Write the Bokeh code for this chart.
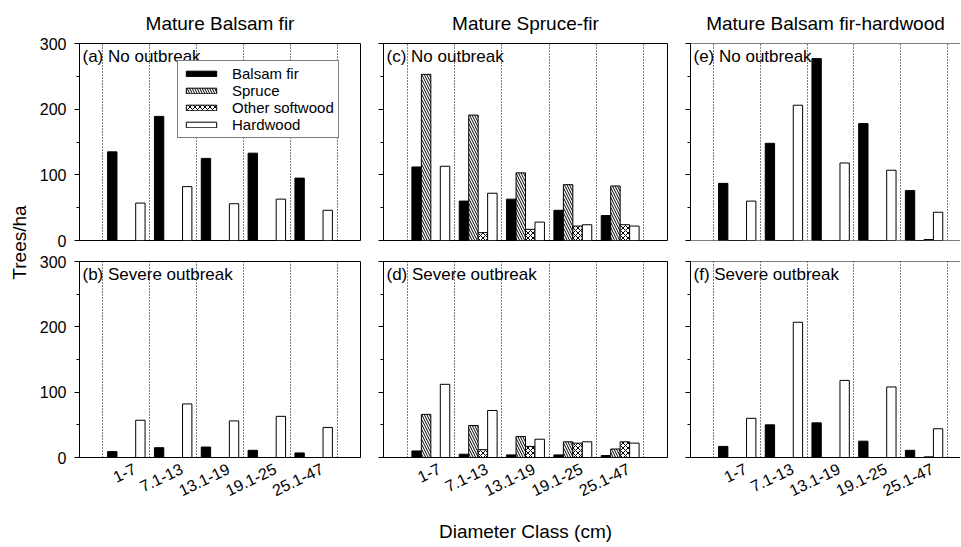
import math
from bokeh.plotting import figure
from bokeh.layouts import row, column
from bokeh.models import (Range1d, FixedTicker, SingleIntervalTicker, Label, Legend,
                          LegendItem, Span, ColumnDataSource)
from bokeh.transform import dodge
from bokeh.embed import file_html
from bokeh.resources import INLINE

FONT = "Liberation Sans"

# ---------------- data ----------------
categories = ["1-7", "7.1-13", "13.1-19", "19.1-25", "25.1-47"]
species = ["Balsam fir", "Spruce", "Other softwood", "Hardwood"]
column_titles = ["Mature Balsam fir", "Mature Spruce-fir", "Mature Balsam fir-hardwood"]
panel_labels = [["(a) No outbreak", "(b) Severe outbreak"],
                ["(c) No outbreak", "(d) Severe outbreak"],
                ["(e) No outbreak", "(f) Severe outbreak"]]
y_axis_label = "Trees/ha"
x_axis_label = "Diameter Class (cm)"
y_major_ticks = [0, 100, 200, 300]

# Mature Balsam fir
bf_no_balsam = [135, 189, 125, 133, 95]
bf_no_spruce = [0, 0, 0, 0, 0]
bf_no_other = [0, 0, 0, 0, 0]
bf_no_hard = [57, 82, 56, 63, 46]
bf_sev_balsam = [9, 15, 16, 11, 7]
bf_sev_spruce = [0, 0, 0, 0, 0]
bf_sev_other = [0, 0, 0, 0, 0]
bf_sev_hard = [57, 82, 56, 63, 46]

# Mature Spruce-fir
sf_no_balsam = [112, 60, 63, 46, 38]
sf_no_spruce = [253, 191, 103, 85, 83]
sf_no_other = [0, 12, 17, 22, 24]
sf_no_hard = [113, 72, 28, 24, 22]
sf_sev_balsam = [10, 5, 4, 4, 3]
sf_sev_spruce = [66, 49, 32, 24, 13]
sf_sev_other = [0, 12, 17, 22, 24]
sf_sev_hard = [112, 72, 28, 24, 22]

# Mature Balsam fir-hardwood
bfh_no_balsam = [87, 148, 277, 178, 76]
bfh_no_spruce = [0, 0, 0, 0, 0]
bfh_no_other = [0, 0, 0, 0, 1.5]
bfh_no_hard = [60, 206, 118, 107, 43]
bfh_sev_balsam = [17, 50, 53, 25, 11]
bfh_sev_spruce = [0, 0, 0, 0, 0]
bfh_sev_other = [0, 0, 0, 0, 1]
bfh_sev_hard = [60, 207, 118, 108, 44]

panels = [
    [[bf_no_balsam, bf_no_spruce, bf_no_other, bf_no_hard],
     [bf_sev_balsam, bf_sev_spruce, bf_sev_other, bf_sev_hard]],
    [[sf_no_balsam, sf_no_spruce, sf_no_other, sf_no_hard],
     [sf_sev_balsam, sf_sev_spruce, sf_sev_other, sf_sev_hard]],
    [[bfh_no_balsam, bfh_no_spruce, bfh_no_other, bfh_no_hard],
     [bfh_sev_balsam, bfh_sev_spruce, bfh_sev_other, bfh_sev_hard]],
]

# ---------------- styling / layout constants ----------------
Y_MIN, Y_MAX = 0, 300
X_MIN = 0
X_MAX = [6, 6, 5.78]
BAR_W = 0.2
OFFSETS = [-0.3, -0.1, 0.1, 0.3]
LABEL_SHIFT = 0.18
STYLES = [
    dict(fill_color="black"),
    dict(fill_color="white", hatch_pattern="left_diagonal_line", hatch_color="black",
         hatch_scale=5, hatch_weight=1),
    dict(fill_color="white", hatch_pattern="diagonal_cross", hatch_color="black",
         hatch_scale=5, hatch_weight=1),
    dict(fill_color="white"),
]
STRIP_W = 32
WIDTHS = [333, 307, 288]
MB_LEFT = [47, 18, 18]
MB_RIGHT = [5, 5, 0]
TOP_H, BOT_H = 250, 296

positions = list(range(1, len(categories) + 1))
boundaries = [i + 0.5 for i in range(len(categories) + 1)]
label_positions = [p + LABEL_SHIFT for p in positions]


def make_panel(ci, ri):
    top = ri == 0
    p = figure(width=WIDTHS[ci], height=TOP_H if top else BOT_H,
               x_range=Range1d(X_MIN, X_MAX[ci]), y_range=Range1d(Y_MIN, Y_MAX),
               output_backend="svg", toolbar_location=None,
               min_border_left=MB_LEFT[ci], min_border_right=MB_RIGHT[ci],
               min_border_top=43 if top else 11, min_border_bottom=10 if top else 89,
               title=column_titles[ci] if top else None)
    if top:
        p.title.text_font = FONT
        p.title.text_font_size = "19px"
        p.title.text_font_style = "normal"
        p.title.align = "center"
        p.title.text_color = "black"
        p.title.standoff = 20

    data = dict(x=positions)
    vals = panels[ci][ri]
    for k in range(len(species)):
        data["s%d" % k] = vals[k]
    src = ColumnDataSource(data)
    renderers = []
    for k in range(len(species)):
        r = p.vbar(x=dodge("x", OFFSETS[k], range=p.x_range), top="s%d" % k, bottom=0,
                   width=BAR_W, source=src, line_color="black", line_width=1, **STYLES[k])
        renderers.append(r)

    # grid: dotted class boundaries
    p.ygrid.visible = False
    p.xgrid.ticker = FixedTicker(ticks=boundaries)
    p.xgrid.grid_line_color = "black"
    p.xgrid.grid_line_dash = "1 2"
    p.xgrid.grid_line_width = 1

    # y axis
    p.yaxis.ticker = SingleIntervalTicker(interval=100, num_minor_ticks=2)
    p.yaxis.axis_line_color = "black"
    p.yaxis.major_tick_line_color = "black"
    p.yaxis.minor_tick_line_color = "black"
    p.yaxis.major_tick_out = 5
    p.yaxis.major_tick_in = 0
    p.yaxis.minor_tick_out = 3
    p.yaxis.minor_tick_in = 0
    p.yaxis.major_label_text_font = FONT
    p.yaxis.major_label_text_font_size = "16px"
    p.yaxis.major_label_text_color = "black"
    p.yaxis.major_label_standoff = 8
    if ci != 0:
        p.yaxis.major_label_overrides = {t: "" for t in y_major_ticks}
        p.yaxis.major_label_standoff = 0

    # x axis
    if top:
        p.xaxis.visible = False
    else:
        p.xaxis.ticker = FixedTicker(ticks=label_positions)
        p.xaxis.major_label_overrides = {pos: lab for pos, lab in zip(label_positions, categories)}
        p.xaxis.axis_line_color = "black"
        p.xaxis.major_tick_line_color = None
        p.xaxis.minor_tick_line_color = None
        p.xaxis.major_label_text_font = FONT
        p.xaxis.major_label_text_color = "black"
        p.xaxis.major_label_text_font_size = "16px"
        p.xaxis.major_label_orientation = math.pi / 7
        p.xaxis.major_label_standoff = 4
        if ci == 1:
            p.xaxis.axis_label = x_axis_label
            p.xaxis.axis_label_text_font = FONT
            p.xaxis.axis_label_text_font_size = "19px"
            p.xaxis.axis_label_text_font_style = "normal"
            p.xaxis.axis_label_text_color = "black"
            p.xaxis.axis_label_standoff = 16

    if ci == 2:
        p.outline_line_color = None
        p.add_layout(Span(location=Y_MAX, dimension="width", line_color="black", line_width=1))
        if top:
            p.add_layout(Span(location=Y_MIN, dimension="width", line_color="black", line_width=1))
    else:
        p.outline_line_color = "black"
        p.outline_line_alpha = 1

    p.add_layout(Label(x=X_MIN, y=Y_MAX, x_offset=3, y_offset=-3, text=panel_labels[ci][ri],
                       text_baseline="top", text_font=FONT, text_font_size="17px",
                       text_color="black"))

    if ci == 0 and ri == 0:
        legend = Legend(items=[LegendItem(label=s, renderers=[r]) for s, r in zip(species, renderers)],
                        location=(98, 102), border_line_color="black", border_line_width=1,
                        background_fill_color="white", background_fill_alpha=1,
                        label_text_font=FONT, label_text_font_size="15px",
                        label_text_color="black",
                        glyph_width=38, glyph_height=7, label_height=15, spacing=0,
                        padding=4, label_standoff=12, margin=0)
        p.add_layout(legend)
    return p


figs = [[make_panel(ci, ri) for ci in range(3)] for ri in range(2)]

TOTAL_H = TOP_H + BOT_H
strip = figure(width=STRIP_W, height=TOTAL_H, x_range=Range1d(0, STRIP_W), y_range=Range1d(0, TOTAL_H),
               output_backend="svg", toolbar_location=None, min_border=0)
strip.axis.visible = False
strip.grid.visible = False
strip.outline_line_color = None
strip.add_layout(Label(x=19, y=TOTAL_H - 242, text=y_axis_label, angle=math.pi / 2,
                       text_align="center", text_baseline="middle", text_font=FONT,
                       text_font_size="19px", text_color="black"))

layout = row(strip, column(row(*figs[0]), row(*figs[1])))

open("out.html", "w").write(file_html(layout, INLINE))
